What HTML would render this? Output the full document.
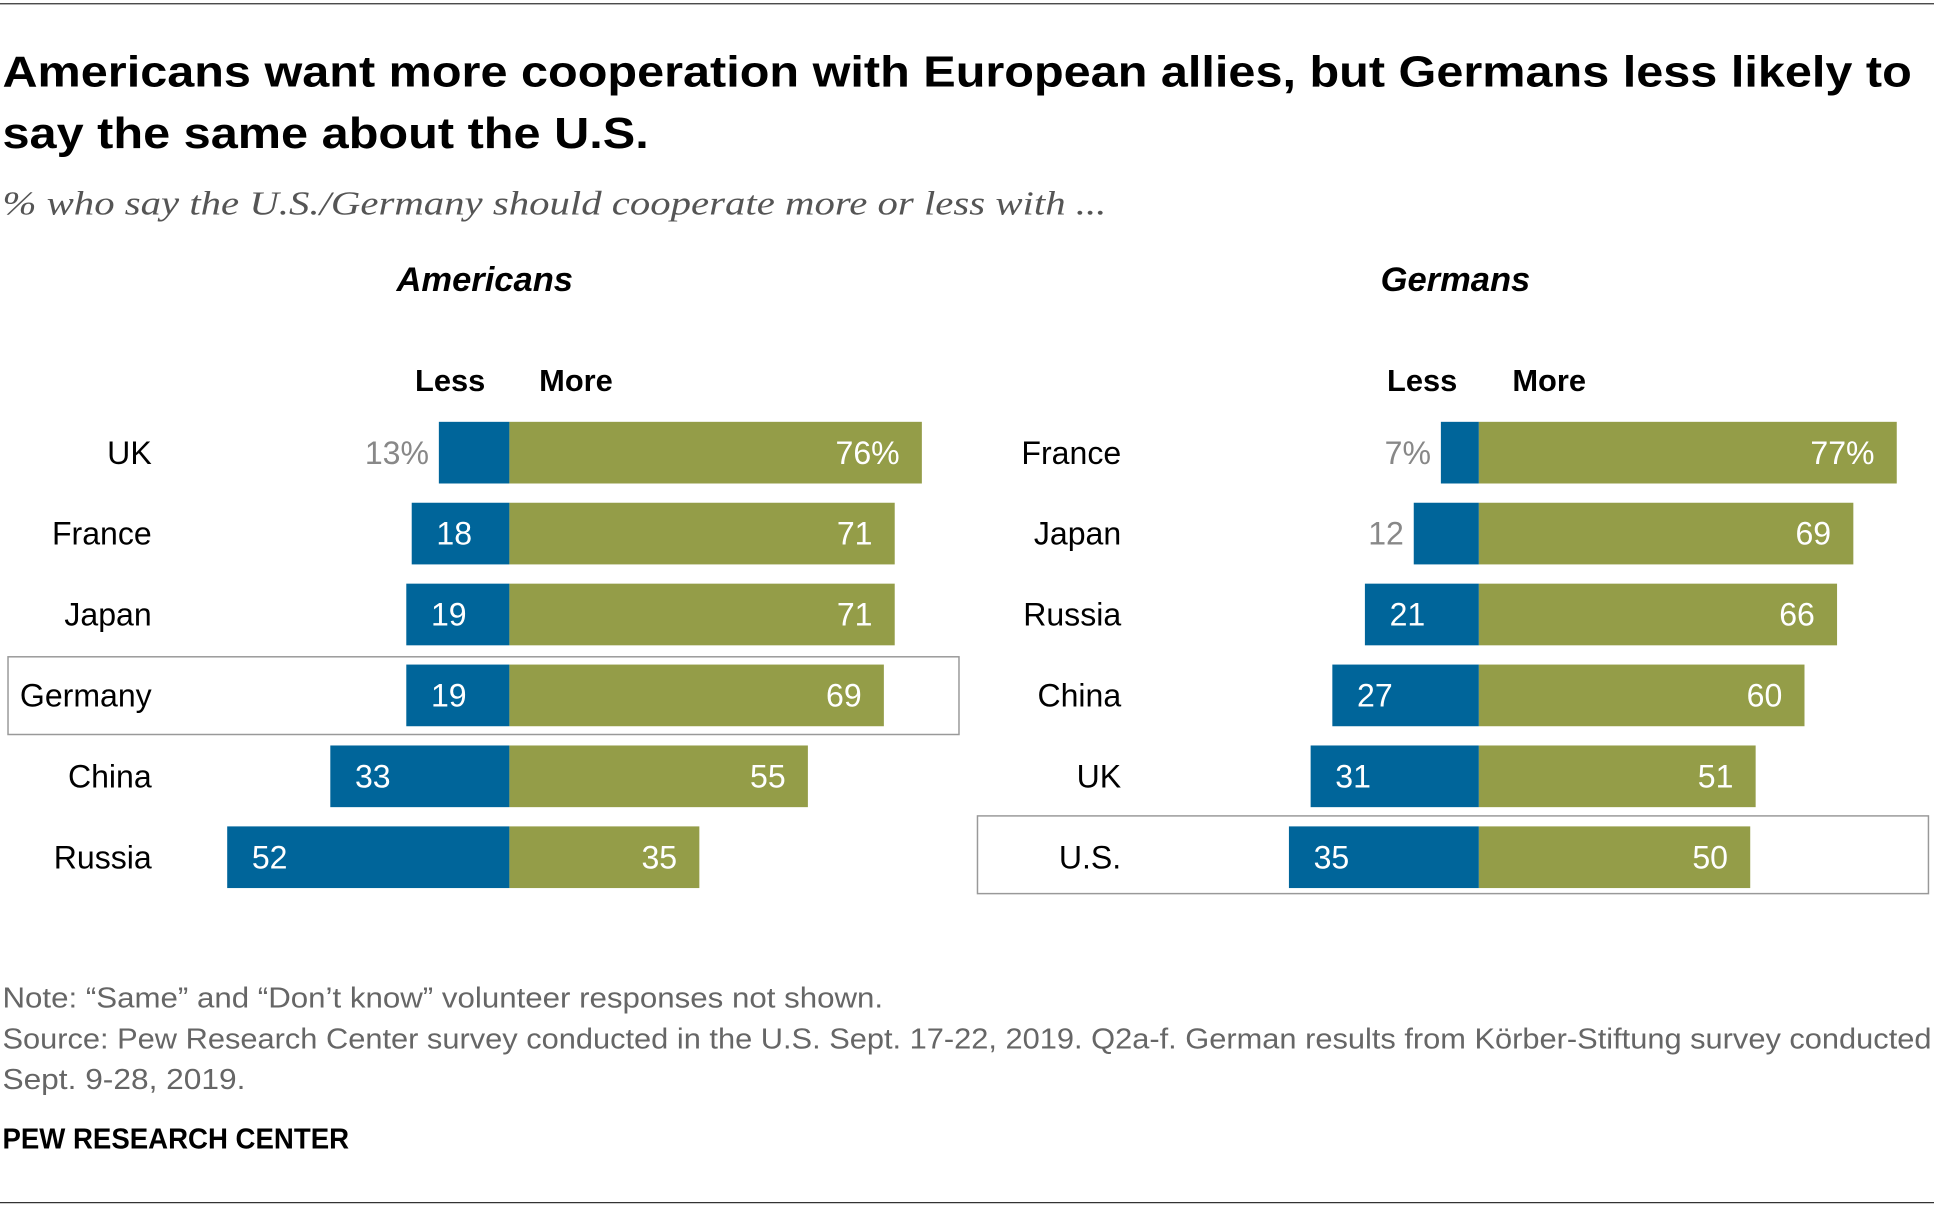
<!DOCTYPE html>
<html><head><meta charset="utf-8"><style>
html,body{margin:0;padding:0;background:#fff;}
#wrap{width:1568px;height:980px;transform:scale(1.23342);transform-origin:0 0;}
text{font-family:"Liberation Sans",sans-serif;}
</style></head><body>
<div id="wrap">
<svg id="svg" width="1568" height="980" viewBox="0 0 1568 980">
<line x1="0" y1="3" x2="1568" y2="3" stroke="#333" stroke-width="1"/>
<text x="2" y="70" font-size="35" font-weight="bold" fill="#000" textLength="1548" lengthAdjust="spacingAndGlyphs">Americans want more cooperation with European allies, but Germans less likely to</text>
<text x="2" y="120" font-size="35" font-weight="bold" fill="#000" textLength="524" lengthAdjust="spacingAndGlyphs">say the same about the U.S.</text>
<text x="2" y="174" font-size="27" font-style="italic" fill="#555" style="font-family:'Liberation Serif',serif" textLength="895" lengthAdjust="spacingAndGlyphs">% who say the U.S./Germany should cooperate more or less with ...</text>
<text x="393" y="236" font-size="28" font-weight="bold" font-style="italic" text-anchor="middle">Americans</text>
<text x="1180" y="236" font-size="28" font-weight="bold" font-style="italic" text-anchor="middle">Germans</text>
<text x="365" y="317" font-size="25" font-weight="bold" text-anchor="middle">Less</text>
<text x="467" y="317" font-size="25" font-weight="bold" text-anchor="middle">More</text>
<text x="1153" y="317" font-size="25" font-weight="bold" text-anchor="middle">Less</text>
<text x="1256" y="317" font-size="25" font-weight="bold" text-anchor="middle">More</text>
<rect x="6.5" y="532.5" width="771" height="63" fill="none" stroke="#999" stroke-width="1.2"/>
<rect x="792.5" y="661.5" width="771" height="63" fill="none" stroke="#999" stroke-width="1.2"/>
<g id="bars"></g>
<text x="2" y="817" font-size="23" fill="#666" textLength="714" lengthAdjust="spacingAndGlyphs">Note: “Same” and “Don’t know” volunteer responses not shown.</text>
<text x="2" y="850" font-size="23" fill="#666" textLength="1564" lengthAdjust="spacingAndGlyphs">Source: Pew Research Center survey conducted in the U.S. Sept. 17-22, 2019. Q2a-f. German results from Körber-Stiftung survey conducted</text>
<text x="2" y="883" font-size="23" fill="#666" textLength="197" lengthAdjust="spacingAndGlyphs">Sept. 9-28, 2019.</text>
<text x="2" y="931" font-size="23" font-weight="bold" fill="#000" textLength="281" lengthAdjust="spacingAndGlyphs">PEW RESEARCH CENTER</text>
<line x1="0" y1="975" x2="1568" y2="975" stroke="#333" stroke-width="1"/>
</svg></div>
<script>
const usCategories=["UK","France","Japan","Germany","China","Russia"];
const usLess=[13,18,19,19,33,52];
const usMore=[76,71,71,69,55,35];
const deCategories=["France","Japan","Russia","China","UK","U.S."];
const deLess=[7,12,21,27,31,35];
const deMore=[77,69,66,60,51,50];
const NS="http://www.w3.org/2000/svg";
const g=document.getElementById('bars');
const unit=4.4, rowTop=342, rowStep=65.6, barH=50;
function yOf(i){return rowTop+i*rowStep;}
function mk(tag,attrs){const e=document.createElementNS(NS,tag);for(const k in attrs)e.setAttribute(k,attrs[k]);g.appendChild(e);return e;}
function panel(cats,less,more,zero,labelX,prefix){
  cats.forEach((c,i)=>{
    const y=yOf(i), lw=less[i]*unit, mw=more[i]*unit, cy=y+barH/2+9;
    const t=mk('text',{x:labelX,y:cy,'font-size':26,'text-anchor':'end',fill:'#000'});t.textContent=c;
    
    
    const lb=mk('rect',{x:zero-lw,y:y,width:lw,height:barH,fill:'#00659a'});
    
    
    const mb=mk('rect',{x:zero,y:y,width:mw,height:barH,fill:'#949d48'});
    
    
    const pct=i===0?'%':'';
    let lt;
    if(less[i]<15){lt=mk('text',{x:zero-lw-8,y:cy,'font-size':26,'text-anchor':'end',fill:'#888'});}
    else{lt=mk('text',{x:zero-lw+20,y:cy,'font-size':26,fill:'#fff'});}
    lt.textContent=less[i]+pct;
    
    
    const mt=mk('text',{x:zero+mw-18,y:cy,'font-size':26,'text-anchor':'end',fill:'#fff'});
    mt.textContent=more[i]+pct;
    
    
  });
}
panel(usCategories,usLess,usMore,413,123,'americans');
panel(deCategories,deLess,deMore,1199,909,'germans');
</script>
</body></html>
